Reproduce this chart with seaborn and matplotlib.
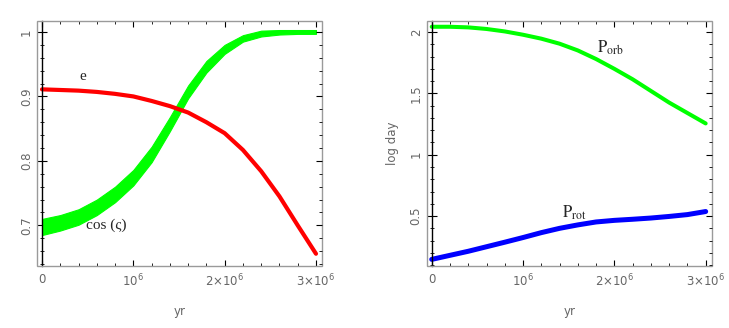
import numpy as np
import pandas as pd
import matplotlib
matplotlib.use("Agg")
import matplotlib.pyplot as plt
from matplotlib.patches import Rectangle
from matplotlib.ticker import MultipleLocator, FixedLocator
import seaborn as sns

# time axis (yr)
years = [0.0, 0.2e6, 0.4e6, 0.6e6, 0.8e6, 1.0e6, 1.2e6, 1.4e6,
         1.6e6, 1.8e6, 2.0e6, 2.2e6, 2.4e6, 2.6e6, 2.8e6, 3.0e6]

# left panel: eccentricity and cos(zeta) band
ecc = [0.911, 0.910, 0.909, 0.907, 0.904, 0.900, 0.893, 0.885,
       0.875, 0.860, 0.843, 0.817, 0.784, 0.745, 0.700, 0.656]
cos_upper = [0.710, 0.716, 0.725, 0.740, 0.760, 0.786, 0.822, 0.868,
             0.917, 0.955, 0.980, 0.995, 1.002, 1.003, 1.003, 1.003]
cos_lower = [0.685, 0.692, 0.701, 0.716, 0.736, 0.762, 0.798, 0.846,
             0.897, 0.937, 0.966, 0.985, 0.993, 0.996, 0.997, 0.997]

# right panel: log periods (day)
p_orb = [2.043, 2.043, 2.038, 2.025, 2.005, 1.978, 1.946, 1.905,
         1.850, 1.780, 1.700, 1.615, 1.520, 1.425, 1.340, 1.255]
p_rot = [0.147, 0.180, 0.213, 0.250, 0.287, 0.325, 0.365, 0.400,
         0.428, 0.452, 0.465, 0.474, 0.484, 0.497, 0.512, 0.537]

x_ticks = [0, 1e6, 2e6, 3e6]
x_ticklabels = ["0", r"$10^6$", r"$2{\times}10^6$", r"$3{\times}10^6$"]

df = pd.DataFrame({"yr": years, "e": ecc, "cu": cos_upper, "cl": cos_lower,
                   "porb": p_orb, "prot": p_rot})

sns.set_style("white")
plt.rcParams["font.family"] = ["DejaVu Sans"]

GRAY = "#9a9a9a"
LABEL = "#666666"
SERIF = "Liberation Serif"

fig = plt.figure(figsize=(7.29, 3.28), dpi=100)
ax1 = fig.add_axes([37 / 729, 62 / 328, 285 / 729, 245 / 328])
ax2 = fig.add_axes([426.7 / 729, 62 / 328, 285 / 729, 245 / 328])


def style_axes(ax, ylim, yticks, yticklabels, yminor):
    ax.set_xlim(-0.055e6, 3.066e6)
    ax.set_ylim(*ylim)
    for s in ["top", "right", "bottom"]:
        ax.spines[s].set_visible(False)
    ax.spines["left"].set_position(("data", 0))
    ax.spines["left"].set_color("black")
    ax.spines["left"].set_linewidth(1.0)
    ax.add_patch(Rectangle((0, 0), 1, 1, transform=ax.transAxes, fill=False,
                           edgecolor=GRAY, lw=1.0, clip_on=False, zorder=5))
    ax.xaxis.set_major_locator(FixedLocator(x_ticks))
    ax.xaxis.set_minor_locator(MultipleLocator(2e5))
    ax.set_xticklabels(x_ticklabels)
    ax.yaxis.set_major_locator(FixedLocator(yticks))
    ax.yaxis.set_minor_locator(MultipleLocator(yminor))
    ax.set_yticklabels(yticklabels, rotation=90, va="center")
    ax.tick_params(axis="x", which="both", direction="in", top=True,
                   bottom=True, colors="black", labelcolor=LABEL,
                   labelsize=8.5, pad=5)
    ax.tick_params(axis="x", which="major", length=4)
    ax.tick_params(axis="x", which="minor", length=2)
    ax.tick_params(axis="y", which="both", direction="inout", left=True,
                   right=False, colors="black", labelcolor=LABEL,
                   labelsize=8.5, pad=3)
    ax.tick_params(axis="y", which="major", length=7)
    ax.tick_params(axis="y", which="minor", length=3.5)
    # ticks on the right side of the frame
    tw = ax.twinx()
    tw.set_ylim(*ylim)
    tw.yaxis.set_major_locator(FixedLocator(yticks))
    tw.yaxis.set_minor_locator(MultipleLocator(yminor))
    tw.tick_params(axis="y", which="both", direction="in", labelright=False,
                   colors="black")
    tw.tick_params(axis="y", which="major", length=4)
    tw.tick_params(axis="y", which="minor", length=2)
    for s in tw.spines.values():
        s.set_visible(False)
    ax.set_xlabel("yr", color=LABEL, fontsize=8.5, labelpad=11)
    ax.set_ylabel("")


# left panel
ax1.fill_between(df["yr"], df["cl"], df["cu"], facecolor="#00ff00",
                 edgecolor="#00ff00", lw=0.8)
sns.lineplot(data=df, x="yr", y="e", ax=ax1, color="#ff0000", lw=3)
style_axes(ax1, (0.637, 1.017), [0.7, 0.8, 0.9, 1.0],
           ["0.7", "0.8", "0.9", "1"], 0.02)
ax1.text(0.45e6, 0.931, "e", fontsize=11, family=SERIF,
         ha="center", va="center")
ax1.text(0.48e6, 0.700, "cos (ς)", fontsize=11, family=SERIF,
         ha="left", va="center")

# right panel
sns.lineplot(data=df, x="yr", y="porb", ax=ax2, color="#00ff00", lw=2.9)
sns.lineplot(data=df, x="yr", y="prot", ax=ax2, color="#0000ff", lw=3.6)
style_axes(ax2, (0.093, 2.09), [0.5, 1.0, 1.5, 2.0],
           ["0.5", "1", "1.5", "2"], 0.1)
ax2.set_ylabel("log day", color=LABEL, fontsize=8.5, labelpad=8)
ax2.text(1.96e6, 1.87, r"$\mathrm{P}_{\mathrm{orb}}$", fontsize=12,
         math_fontfamily="stix", ha="center", va="center")
ax2.text(1.56e6, 0.53, r"$\mathrm{P}_{\mathrm{rot}}$", fontsize=12,
         math_fontfamily="stix", ha="center", va="center")

fig.savefig("out.png", dpi=100)
